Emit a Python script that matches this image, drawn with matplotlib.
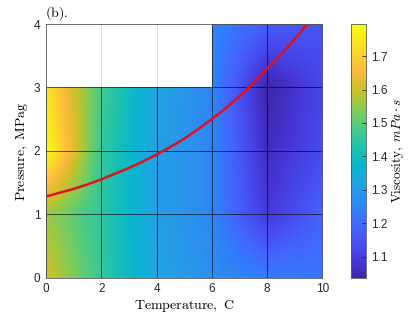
import numpy as np
import matplotlib
matplotlib.use("Agg")
import matplotlib.pyplot as plt
from matplotlib.colors import LinearSegmentedColormap
from matplotlib.patches import Rectangle

plt.rcParams['font.family'] = ['Liberation Sans', 'DejaVu Sans']
plt.rcParams['mathtext.fontset'] = 'cm'

# grid nodes
temps = [0, 2, 4, 6, 8, 10]
press = [0, 1, 2, 3, 4]

# viscosity at nodes, rows = pressure, cols = temperature (nan = no data)
visc_p0 = [1.61, 1.46, 1.32, 1.27, 1.23, 1.22]
visc_p1 = [1.56, 1.45, 1.31, 1.25, 1.09, 1.18]
visc_p2 = [1.796, 1.46, 1.31, 1.25, 1.06, 1.13]
visc_p3 = [1.74, 1.48, 1.32, 1.25, 1.037, 1.12]
visc_p4 = [np.nan, np.nan, np.nan, 1.25, 1.17, 1.15]

# red boundary curve
curve_t = [0, 0.5, 1, 1.5, 2, 2.5, 3, 3.5, 4, 4.5, 5, 5.5, 6, 6.5, 7, 7.5, 8, 8.5, 9, 9.5]
curve_p = [1.28, 1.34, 1.40, 1.47, 1.55, 1.64, 1.73, 1.83, 1.94, 2.06, 2.19,
           2.34, 2.50, 2.67, 2.86, 3.07, 3.30, 3.52, 3.76, 4.02]

cbar_ticks = [1.1, 1.2, 1.3, 1.4, 1.5, 1.6, 1.7]

# parula-like colormap
parula_pts = [
    (0.2422, 0.1504, 0.6603), (0.2706, 0.2147, 0.8364), (0.2813, 0.3006, 0.9414),
    (0.2699, 0.3892, 0.9906), (0.1963, 0.4847, 0.9892), (0.1687, 0.5703, 0.9359),
    (0.1248, 0.6459, 0.8883), (0.0297, 0.7082, 0.8163), (0.0964, 0.7500, 0.7120),
    (0.2161, 0.7843, 0.5923), (0.3909, 0.8029, 0.4354), (0.6174, 0.7876, 0.2612),
    (0.8203, 0.7498, 0.1535), (0.9728, 0.7298, 0.2394), (0.9918, 0.8126, 0.1851),
    (0.9814, 0.9068, 0.1082), (0.9763, 0.9831, 0.0538)]
parula = LinearSegmentedColormap.from_list('parula', parula_pts, N=256)

visc = np.array([visc_p0, visc_p1, visc_p2, visc_p3, visc_p4])
vmin, vmax = np.nanmin(visc), np.nanmax(visc)
dt = (temps[1] - temps[0]) / 2
dp = (press[1] - press[0]) / 2

fig = plt.figure(figsize=(4.2, 3.15), dpi=100)
ax = fig.add_axes([0.1095, 0.1184, 0.6579, 0.8054])

ax.grid(True, color='#dcdcdc', lw=0.6)
ax.set_axisbelow(True)

# interpolated surface: lower block (all temps, P 0-3), upper block (T 6-10, P 3-4)
blocks = [(visc[:4, :], temps, press[:4]), (visc[3:, 3:], temps[3:], press[3:])]
for i, (z, tt, pp) in enumerate(blocks):
    im = ax.imshow(z, origin='lower', cmap=parula, vmin=vmin, vmax=vmax,
                   extent=[tt[0] - dt, tt[-1] + dt, pp[0] - dp, pp[-1] + dp],
                   interpolation='bilinear', interpolation_stage='data',
                   aspect='auto', zorder=1)
    im.set_clip_path(Rectangle((tt[0], pp[0]), tt[-1] - tt[0], pp[-1] - pp[0],
                               transform=ax.transData))
    if i == 0:
        m = im

# mesh edges
ec = dict(colors='k', lw=0.6, alpha=0.7, zorder=2)
ax.vlines(temps, press[0], press[3], **ec)
ax.vlines(temps[3:], press[3], press[4], **ec)
ax.hlines(press[:4], temps[0], temps[-1], **ec)
ax.hlines(press[4], temps[3], temps[-1], **ec)

ax.plot(curve_t, curve_p, color='#e0101e', lw=1.8, zorder=3)

ax.set_xlim(0, 10)
ax.set_ylim(0, 4)
ax.set_xticks(temps)
ax.set_yticks(press)
ax.tick_params(length=0, labelsize=8.5, pad=4, colors='#262626')
for s in ax.spines.values():
    s.set_color('#5a5a5a')
    s.set_linewidth(0.6)
    s.set_zorder(4)

ax.set_xlabel(r'$\mathrm{Temperature,\ C}$', fontsize=10, labelpad=2)
ax.set_ylabel(r'$\mathrm{Pressure,\ MPag}$', fontsize=10, labelpad=3)
fig.text(0.108, 0.958, r'$\mathrm{(b).}$', fontsize=10, va='center')

cax = fig.add_axes([0.835, 0.1184, 0.0357, 0.8054])
cb = fig.colorbar(m, cax=cax, ticks=cbar_ticks)
cb.outline.set_edgecolor('#5a5a5a')
cb.outline.set_linewidth(0.6)
cax.tick_params(direction='in', length=3, width=0.6, labelsize=8.5, colors='#262626')
cb.set_label(r'$\mathrm{Viscosity,}\ mPa\cdot s$', fontsize=9.5, labelpad=2)

fig.savefig('out.png', dpi=100)
